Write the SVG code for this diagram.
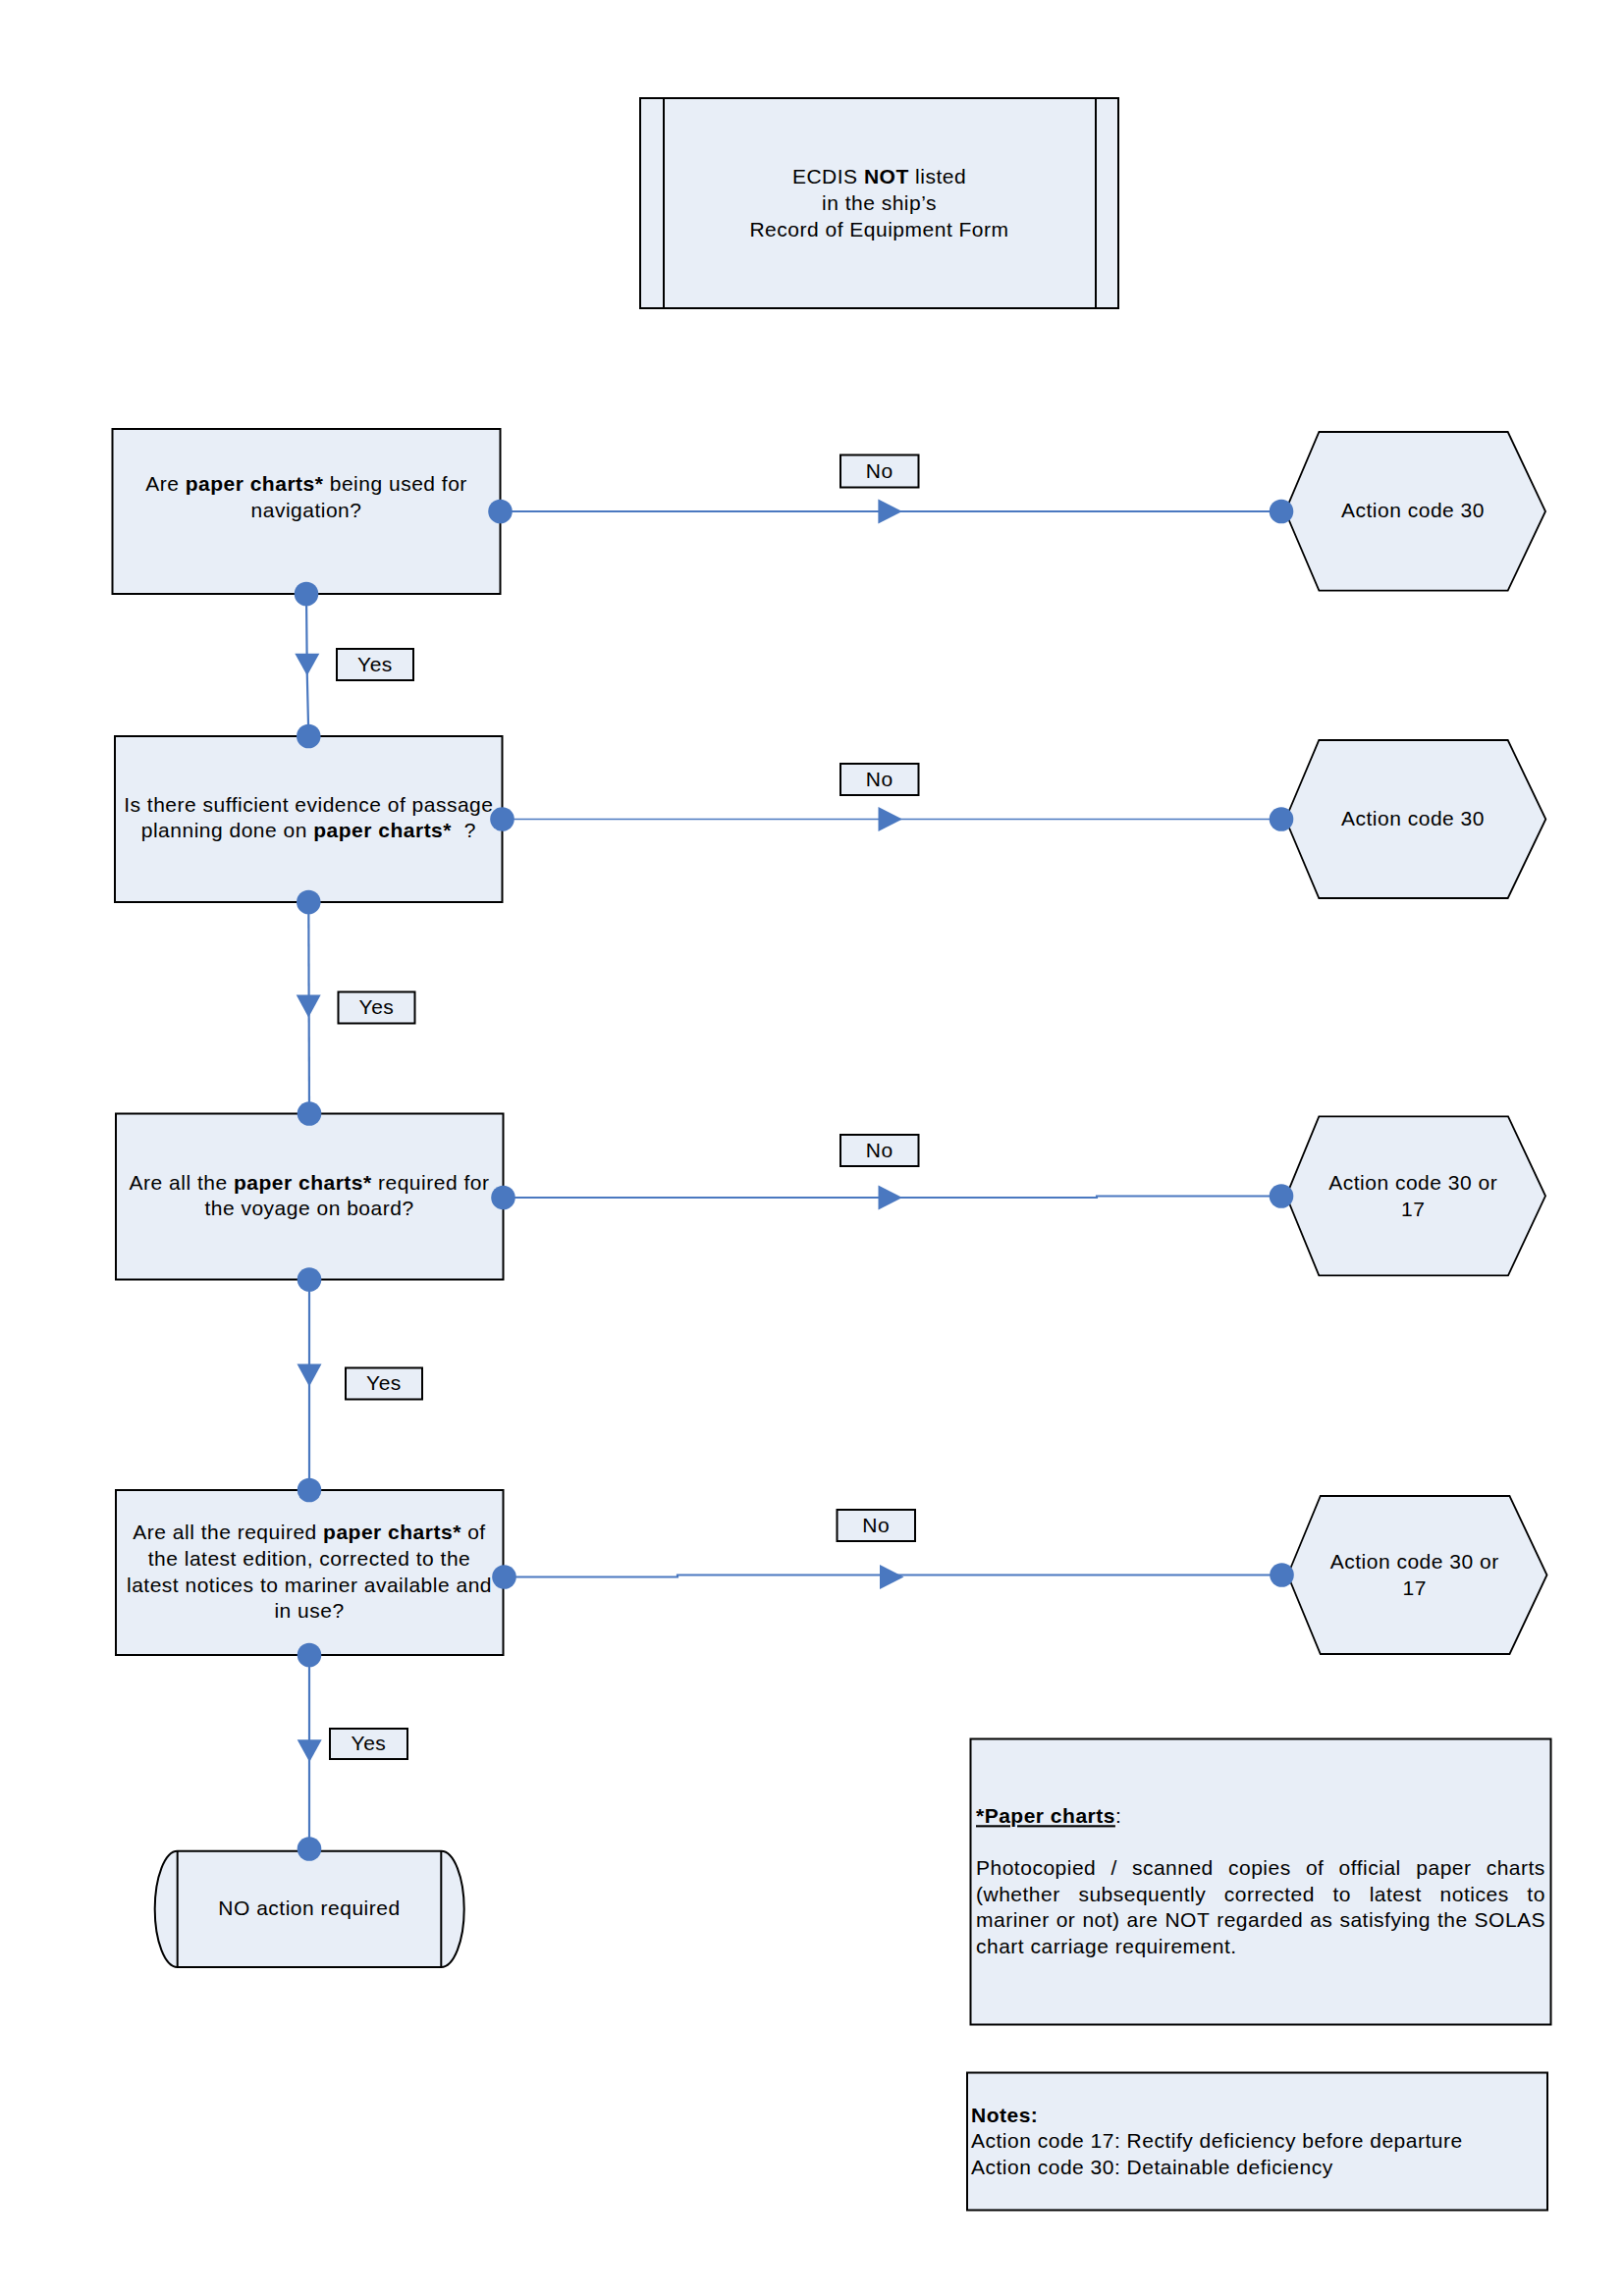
<svg xmlns="http://www.w3.org/2000/svg" width="1654" height="2339" viewBox="0 0 1654 2339">
<style>
.n{fill:#E8EEF7;stroke:#000;stroke-width:2}
.h{fill:#E8EEF7;stroke:#000;stroke-width:1.8;stroke-linejoin:miter}
.t{font-family:"Liberation Sans",Arial,sans-serif;font-size:21px;letter-spacing:0.5px;fill:#000}
.c{text-anchor:middle}
.b{font-weight:bold}
.ln{stroke:#4A78C0;stroke-width:2.2;fill:none}
.thin{stroke-width:1.4}
.dot{fill:#4A78C0}
.lb{fill:#E8EEF7;stroke:#000;stroke-width:2}
</style>
<rect width="1654" height="2339" fill="#fff"/>

<g id="start">
<rect class="n" x="652" y="100" width="487" height="214"/>
<line x1="676" y1="100" x2="676" y2="314" stroke="#000" stroke-width="2"/>
<line x1="1116" y1="100" x2="1116" y2="314" stroke="#000" stroke-width="2"/>
<text class="t c" x="895.5" y="187">ECDIS <tspan class="b">NOT</tspan> listed</text>
<text class="t c" x="895.5" y="213.5">in the ship’s</text>
<text class="t c" x="895.5" y="240.5">Record of Equipment Form</text>
</g>

<g id="q1">
<rect class="n" x="114.5" y="437" width="395" height="168"/>
<text class="t c" x="312" y="500">Are <tspan class="b">paper charts*</tspan> being used for</text>
<text class="t c" x="312" y="527">navigation?</text>
</g>

<g id="q2">
<rect class="n" x="117" y="750" width="394.5" height="169"/>
<text class="t c" x="314.3" y="826.7">Is there sufficient evidence of passage</text>
<text class="t c" x="314.3" y="853.3" xml:space="preserve">planning done on <tspan class="b">paper charts*</tspan>  ?</text>
</g>

<g id="q3">
<rect class="n" x="118" y="1134.5" width="394.5" height="169"/>
<text class="t c" x="315" y="1211.7">Are all the <tspan class="b">paper charts*</tspan> required for</text>
<text class="t c" x="315" y="1238.3">the voyage on board?</text>
</g>

<g id="q4">
<rect class="n" x="118" y="1518" width="394.5" height="168"/>
<text class="t c" x="315" y="1568.3">Are all the required <tspan class="b">paper charts*</tspan> of</text>
<text class="t c" x="315" y="1595">the latest edition, corrected to the</text>
<text class="t c" x="315" y="1621.7">latest notices to mariner available and</text>
<text class="t c" x="315" y="1648.3">in use?</text>
</g>

<g id="a1">
<polygon class="h" points="1309,521 1343.4,440 1535.7,440 1574,521 1535.7,601.7 1343.4,601.7"/>
<text class="t c" x="1439" y="527.3">Action code 30</text>
</g>
<g id="a2">
<polygon class="h" points="1309.3,834.5 1343.3,754 1535.7,754 1574.3,834.5 1535.7,915 1343.3,915"/>
<text class="t c" x="1439" y="840.5">Action code 30</text>
</g>
<g id="a3">
<polygon class="h" points="1310,1218.3 1343.3,1137.3 1536,1137.3 1574,1218.3 1536,1299.3 1343.3,1299.3"/>
<text class="t c" x="1439.2" y="1211.7">Action code 30 or</text>
<text class="t c" x="1439.2" y="1239">17</text>
</g>
<g id="a4">
<polygon class="h" points="1311.5,1604.5 1344.8,1524 1537.5,1524 1575.5,1604.5 1537.5,1685 1344.8,1685"/>
<text class="t c" x="1440.7" y="1598">Action code 30 or</text>
<text class="t c" x="1440.7" y="1625">17</text>
</g>

<g id="end">
<path class="n" d="M180.7,1885.7 H449.3 A23.4,59.15 0 0 1 449.3,2004 H180.7 A23,59.15 0 0 1 180.7,1885.7 Z"/>
<line x1="180.7" y1="1885.7" x2="180.7" y2="2004" stroke="#000" stroke-width="2"/>
<line x1="449.3" y1="1885.7" x2="449.3" y2="2004" stroke="#000" stroke-width="2"/>
<text class="t c" x="315" y="1951">NO action required</text>
</g>

<g id="note-paper">
<rect class="n" x="988.5" y="1771.5" width="591" height="291"/>
<text class="t" x="994" y="1857.3"><tspan class="b" text-decoration="underline">*Paper charts</tspan>:</text>
<text class="t" y="1910"><tspan x="994">Photocopied</tspan><tspan x="1131.4">/</tspan><tspan x="1152.9">scanned</tspan><tspan x="1251">copies</tspan><tspan x="1329.9">of</tspan><tspan x="1363.6">official</tspan><tspan x="1442.3">paper</tspan><tspan x="1513.7">charts</tspan></text>
<text class="t" y="1936.7"><tspan x="994">(whether</tspan><tspan x="1098.4">subsequently</tspan><tspan x="1246.8">corrected</tspan><tspan x="1357.5">to</tspan><tspan x="1394.7">latest</tspan><tspan x="1466.6">notices</tspan><tspan x="1555.3">to</tspan></text>
<text class="t" y="1963.3"><tspan x="994">mariner</tspan><tspan x="1075.7">or</tspan><tspan x="1102.4">not)</tspan><tspan x="1147.6">are</tspan><tspan x="1186.4">NOT</tspan><tspan x="1239.2">regarded</tspan><tspan x="1334.2">as</tspan><tspan x="1364.4">satisfying</tspan><tspan x="1463.9">the</tspan><tspan x="1501.6">SOLAS</tspan></text>
<text class="t" x="994" y="1990">chart carriage requirement.</text>
</g>

<g id="note-codes">
<rect class="n" x="985" y="2111.5" width="591" height="140"/>
<text class="t b" x="989" y="2161.5">Notes:</text>
<text class="t" x="989" y="2188" letter-spacing="0.6">Action code 17: Rectify deficiency before departure</text>
<text class="t" x="989" y="2214.5" letter-spacing="0.6">Action code 30: Detainable deficiency</text>
</g>

<g id="connectors">
<path class="ln" d="M509.5,521 H1305"/>
<path class="ln thin" d="M511.5,834.5 H1305"/>
<path class="ln" d="M512.5,1220 H1117 V1218.5 H1305"/>
<path class="ln" d="M513.5,1606.5 H690 V1604.5 H1305.5"/>
<path class="ln" d="M312,605 L312.8,688 L314.3,750"/>
<path class="ln" d="M314.3,919 L315,1134.5"/>
<path class="ln" d="M315,1303.5 V1518"/>
<path class="ln" d="M315,1686 V1883.5"/>
<g class="dot">
<polygon points="300.3,665.7 325.3,665.7 312.8,688.3"/>
<polygon points="301.7,1013.5 326.7,1013.5 314.2,1036.5"/>
<polygon points="302.5,1389.5 327.5,1389.5 315,1412.5"/>
<polygon points="302.7,1772.3 327.7,1772.3 315.2,1795"/>
<polygon points="894.4,508.5 918.9,521 894.4,533.5"/>
<polygon points="894.5,822 919,834.5 894.5,847"/>
<polygon points="894.5,1207.5 919,1220 894.5,1232.5"/>
<polygon points="896,1594 920.5,1606.5 896,1619"/>
<circle cx="509.5" cy="521" r="12.3"/>
<circle cx="312" cy="605" r="12.3"/>
<circle cx="314.3" cy="750" r="12.3"/>
<circle cx="511.5" cy="834.5" r="12.3"/>
<circle cx="314.3" cy="919" r="12.3"/>
<circle cx="315" cy="1134.5" r="12.3"/>
<circle cx="512.5" cy="1220" r="12.3"/>
<circle cx="315" cy="1303.5" r="12.3"/>
<circle cx="315" cy="1518" r="12.3"/>
<circle cx="513.5" cy="1606.5" r="12.3"/>
<circle cx="315" cy="1686" r="12.3"/>
<circle cx="315" cy="1883.5" r="12.3"/>
<circle cx="1305" cy="521" r="12.3"/>
<circle cx="1305" cy="834.5" r="12.3"/>
<circle cx="1305" cy="1218.5" r="12.3"/>
<circle cx="1305.5" cy="1604.5" r="12.3"/>
</g>
</g>

<g id="labels">
<rect class="lb" x="343" y="661" width="78" height="32"/>
<text class="t c" x="382" y="683.5">Yes</text>
<rect class="lb" x="344.5" y="1010.5" width="78" height="32"/>
<text class="t c" x="383.5" y="1033">Yes</text>
<rect class="lb" x="352" y="1393.5" width="78" height="32"/>
<text class="t c" x="391" y="1416">Yes</text>
<rect class="lb" x="336" y="1761" width="79" height="31"/>
<text class="t c" x="375.5" y="1783">Yes</text>
<rect class="lb" x="856" y="463.5" width="79.5" height="33"/>
<text class="t c" x="895.7" y="487">No</text>
<rect class="lb" x="856" y="778" width="79.5" height="32"/>
<text class="t c" x="895.7" y="801">No</text>
<rect class="lb" x="856" y="1156" width="79.5" height="32"/>
<text class="t c" x="895.7" y="1179">No</text>
<rect class="lb" x="852.5" y="1538" width="79.5" height="32"/>
<text class="t c" x="892.2" y="1561">No</text>
</g>
</svg>
